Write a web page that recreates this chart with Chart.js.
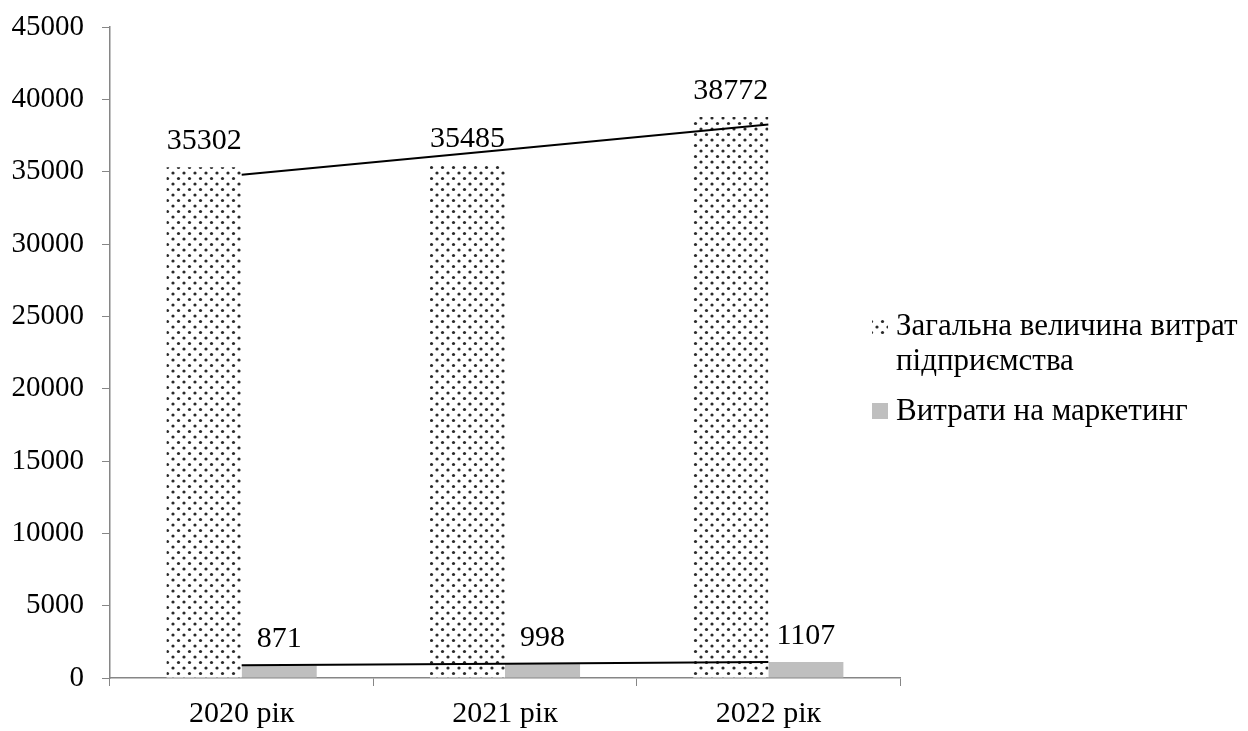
<!DOCTYPE html>
<html>
<head>
<meta charset="utf-8">
<script src="https://cdn.jsdelivr.net/npm/chart.js@4.4.1/dist/chart.umd.min.js"></script>
<style>
  body { margin: 0; background: #fff; }
</style>
</head>
<body>
<canvas id="myChart" width="1248" height="731"></canvas>
<script>
// дані діаграми
const categories = ['2020 рік', '2021 рік', '2022 рік'];
const totalCosts = [35302, 35485, 38772];
const marketingCosts = [871, 998, 1107];
const totalLabel = ['Загальна величина витрат', 'підприємства'];
const marketingLabel = 'Витрати на маркетинг';
const yMax = 45000;
const yStep = 5000;

const FONT = "'Liberation Serif', 'Times New Roman', serif";
const AXIS_GRAY = '#868686';
const BAR_GRAY = '#bfbfbf';

// лінійний тренд (як у Excel)
function trend(values) {
    const n = values.length;
    let sx = 0, sy = 0, sxy = 0, sxx = 0;
    values.forEach((v, i) => {
        const x = i + 1;
        sx += x; sy += v; sxy += x * v; sxx += x * x;
    });
    const b = (n * sxy - sx * sy) / (n * sxx - sx * sx);
    const a = (sy - b * sx) / n;
    return values.map((v, i) => a + b * (i + 1));
}

// візерунок з точок
function dotPattern() {
    const c = document.createElement('canvas');
    c.width = 11;
    c.height = 11;
    const g = c.getContext('2d');
    g.fillStyle = '#fff';
    g.fillRect(0, 0, 11, 11);
    g.fillStyle = '#2a2a2a';
    [[2.5, 2.5], [8, 8]].forEach(p => {
        g.beginPath();
        g.arc(p[0], p[1], 1.6, 0, Math.PI * 2);
        g.fill();
    });
    return g.createPattern(c, 'repeat');
}

const ctx = document.getElementById('myChart').getContext('2d');
const pattern = dotPattern();

// підписи значень над стовпцями
const valueLabels = {
    id: 'valueLabels',
    afterDatasetsDraw(chart) {
        const c = chart.ctx;
        c.save();
        c.font = '30px ' + FONT;
        c.fillStyle = '#000';
        c.textAlign = 'center';
        c.textBaseline = 'alphabetic';
        chart.data.datasets.forEach((ds, i) => {
            if (ds.type === 'line') return;
            chart.getDatasetMeta(i).data.forEach((bar, j) => {
                c.fillText(String(ds.data[j]), bar.x, bar.y - 18);
            });
        });
        c.restore();
    }
};

// легенда праворуч
const sideLegend = {
    id: 'sideLegend',
    afterDraw(chart) {
        const c = chart.ctx;
        c.save();
        c.font = '31px ' + FONT;
        c.textAlign = 'left';
        c.textBaseline = 'middle';
        c.fillStyle = pattern;
        c.fillRect(872, 318, 16, 16);
        c.fillStyle = '#000';
        c.fillText(totalLabel[0], 896, 327);
        c.fillText(totalLabel[1], 896, 362);
        c.fillStyle = BAR_GRAY;
        c.fillRect(872, 403, 16, 16);
        c.fillStyle = '#000';
        c.fillText(marketingLabel, 896, 412);
        c.restore();
    }
};

const myChart = new Chart(ctx, {
    type: 'bar',
    data: {
        labels: categories,
        datasets: [
            {
                label: 'trend1',
                type: 'line',
                data: trend(totalCosts),
                borderColor: '#000',
                borderWidth: 2,
                pointRadius: 0,
                order: 0
            },
            {
                label: 'trend2',
                type: 'line',
                data: trend(marketingCosts),
                borderColor: '#000',
                borderWidth: 2,
                pointRadius: 0,
                order: 0
            },
            {
                label: totalLabel.join(' '),
                data: totalCosts,
                backgroundColor: pattern,
                categoryPercentage: 0.57,
                barPercentage: 1.0,
                order: 1
            },
            {
                label: marketingLabel,
                data: marketingCosts,
                backgroundColor: BAR_GRAY,
                categoryPercentage: 0.57,
                barPercentage: 1.0,
                order: 1
            }
        ]
    },
    options: {
        responsive: false,
        animation: false,
        layout: {
            padding: { top: 27, right: 348, left: 0, bottom: 0 }
        },
        plugins: {
            legend: { display: false },
            tooltip: { enabled: false }
        },
        scales: {
            x: {
                grid: {
                    drawOnChartArea: false,
                    color: AXIS_GRAY,
                    tickLength: 8
                },
                border: { color: AXIS_GRAY, width: 1.5 },
                ticks: {
                    color: '#000',
                    font: { family: FONT, size: 30 },
                    padding: 10
                },
                afterFit(scale) { scale.height = 53; }
            },
            y: {
                min: 0,
                max: yMax,
                grid: {
                    drawOnChartArea: false,
                    color: AXIS_GRAY,
                    tickLength: 8
                },
                border: { color: AXIS_GRAY, width: 1.5 },
                ticks: {
                    stepSize: yStep,
                    color: '#000',
                    font: { family: FONT, size: 29 },
                    padding: 18,
                    callback: (v) => String(v)
                },
                afterFit(scale) {
                    scale.width = 110;
                    scale.paddingTop = 0;
                    scale.paddingBottom = 0;
                }
            }
        }
    },
    plugins: [valueLabels, sideLegend]
});
</script>
</body>
</html>
